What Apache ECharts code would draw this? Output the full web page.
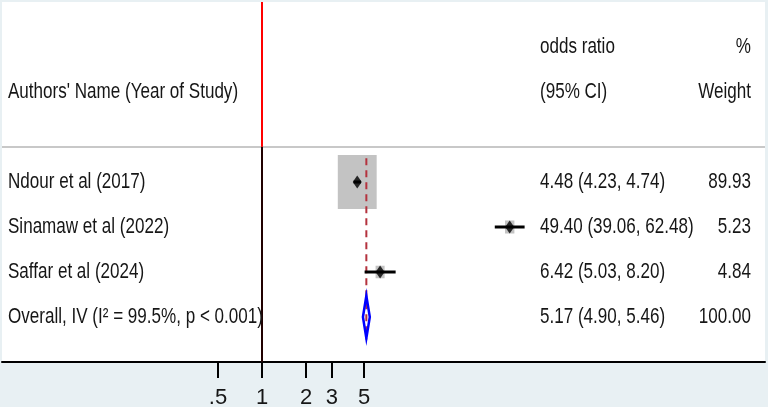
<!DOCTYPE html>
<html>
<head>
<meta charset="utf-8">
<script src="https://cdn.jsdelivr.net/npm/echarts@6/dist/echarts.min.js"></script>
<style>
  html, body { margin: 0; padding: 0; background: #e8f0f3; }
  #chart { width: 768px; height: 407px; }
</style>
</head>
<body>
<div id="chart"></div>
<script>
// study data
const studies = ['Ndour et al (2017)', 'Sinamaw et al (2022)', 'Saffar et al (2024)'];
const orEst = [4.48, 49.40, 6.42];
const ciLow = [4.23, 39.06, 5.03];
const ciHigh = [4.74, 62.48, 8.20];
const weights = [89.93, 5.23, 4.84];
const studyRows = [3, 4, 5];

// pooled estimate
const overallLabel = 'Overall, IV (I² = 99.5%, p < 0.001)';
const overallEst = [5.17, 4.90, 5.46]; // or, lo, hi
const overallWeight = 100.0;
const overallRow = 6;

// axis ticks
const tickValues = [0.5, 1, 2, 3, 5];
const tickLabels = ['.5', '1', '2', '3', '5'];

const FONT = "'Liberation Sans', Arial, sans-serif";
const TEXT = '#161616';
const SQUEEZE = 0.775; // stata text is drawn narrow
const XMIN = -4.094, XMAX = 7.92; // ln(OR) range of the plot box
const SEP_ROW = 2.22;
const fmt = (v) => v.toFixed(2);

const tableRows = [
  [0, '', 'odds ratio', '%'],
  [1, "Authors' Name (Year of Study)", '(95% CI)', 'Weight']
];
studies.forEach((s, i) => {
  tableRows.push([studyRows[i], s,
    fmt(orEst[i]) + ' (' + fmt(ciLow[i]) + ', ' + fmt(ciHigh[i]) + ')', fmt(weights[i])]);
});
tableRows.push([overallRow, overallLabel,
  fmt(overallEst[0]) + ' (' + fmt(overallEst[1]) + ', ' + fmt(overallEst[2]) + ')', fmt(overallWeight)]);

const ln = Math.log;
const boxData = orEst.map((v, i) => [ln(v), studyRows[i], weights[i]]);
const ciData = orEst.map((v, i) => [ln(ciLow[i]), ln(ciHigh[i]), studyRows[i]]);
const pointData = orEst.map((v, i) => [ln(v), studyRows[i]]);

const myChart = echarts.init(document.getElementById('chart'));

const txt = (x, y, s, align) => ({
  type: 'text',
  x: x, y: y, scaleX: SQUEEZE,
  style: { x: 0, y: 0, text: s, fill: TEXT, font: '22px ' + FONT, textAlign: align, textVerticalAlign: 'middle' }
});

myChart.setOption({
  animation: false,
  grid: {
    left: 2, right: 3, top: 2, bottom: 45,
    show: true, backgroundColor: '#fff', borderWidth: 0,
    containLabel: false, outerBoundsMode: 'none'
  },
  xAxis: {
    type: 'value',
    position: 'bottom',
    min: XMIN, max: XMAX,
    splitLine: { show: false },
    axisLine: { show: true, onZero: false, lineStyle: { color: '#000', width: 2 } },
    axisTick: {
      show: true, inside: false, length: 16,
      lineStyle: { color: '#000', width: 2 },
      customValues: tickValues.map(ln)
    },
    axisLabel: {
      show: true, margin: 25,
      fontFamily: FONT, fontSize: 22, color: TEXT,
      customValues: tickValues.map(ln),
      formatter: (val) => {
        let best = 0;
        tickValues.forEach((t, i) => { if (Math.abs(ln(t) - val) < Math.abs(ln(tickValues[best]) - val)) best = i; });
        return tickLabels[best];
      }
    }
  },
  yAxis: { type: 'value', inverse: true, min: -1, max: 7, show: false },
  series: [
    {
      // header separator
      type: 'line', z: 1, symbol: 'none', silent: true,
      lineStyle: { color: '#c8c8c8', width: 2 },
      data: [[XMIN, SEP_ROW], [XMAX, SEP_ROW]]
    },
    {
      // null line above separator
      type: 'line', z: 2, symbol: 'none', silent: true,
      lineStyle: { color: '#ff0000', width: 2 },
      data: [[0, -1], [0, SEP_ROW]]
    },
    {
      type: 'line', z: 2, symbol: 'none', silent: true,
      lineStyle: { color: '#200000', width: 2 },
      data: [[0, SEP_ROW], [0, 7]]
    },
    {
      // weight boxes
      type: 'custom', z: 3,
      data: boxData,
      renderItem: (params, api) => {
        const c = api.coord([api.value(0), api.value(1)]);
        const s = Math.sqrt(api.value(2));
        const w = 4.1 * s, h = 5.7 * s;
        return { type: 'rect', shape: { x: c[0] - w / 2, y: c[1] - h / 2, width: w, height: h }, style: { fill: '#c3c3c3' } };
      }
    },
    {
      // overall dashed line
      type: 'line', z: 4, symbol: 'none', silent: true,
      lineStyle: { color: '#b4323e', width: 2, type: [7, 5] },
      data: [[ln(overallEst[0]), 2.47], [ln(overallEst[0]), 6.5]]
    },
    {
      // confidence intervals
      type: 'custom', z: 5,
      data: ciData,
      renderItem: (params, api) => {
        const a = api.coord([api.value(0), api.value(2)]);
        const b = api.coord([api.value(1), api.value(2)]);
        return { type: 'line', shape: { x1: a[0], y1: a[1], x2: b[0], y2: b[1] }, style: { stroke: '#000', lineWidth: 3 } };
      }
    },
    {
      type: 'scatter', z: 6,
      symbol: 'diamond', symbolSize: [9, 13],
      itemStyle: { color: '#000' },
      data: pointData
    },
    {
      // overall diamond
      type: 'custom', z: 7,
      data: [[ln(overallEst[0]), ln(overallEst[1]), ln(overallEst[2]), overallRow]],
      renderItem: (params, api) => {
        const r = api.value(3);
        const p = [
          api.coord([api.value(1), r]),
          api.coord([api.value(0), r - 0.47]),
          api.coord([api.value(2), r]),
          api.coord([api.value(0), r + 0.47])
        ];
        return { type: 'polygon', shape: { points: p }, style: { fill: 'rgba(255,255,255,0)', stroke: '#0000ff', lineWidth: 2.5 } };
      }
    },
    {
      // table text
      type: 'custom', z: 8,
      data: tableRows,
      renderItem: (params, api) => {
        const row = tableRows[params.dataIndex];
        const y = api.coord([0, row[0]])[1];
        return {
          type: 'group',
          children: [
            txt(8, y, row[1], 'left'),
            txt(540, y, row[2], 'left'),
            txt(751, y, row[3], 'right')
          ]
        };
      }
    }
  ]
});
</script>
</body>
</html>
